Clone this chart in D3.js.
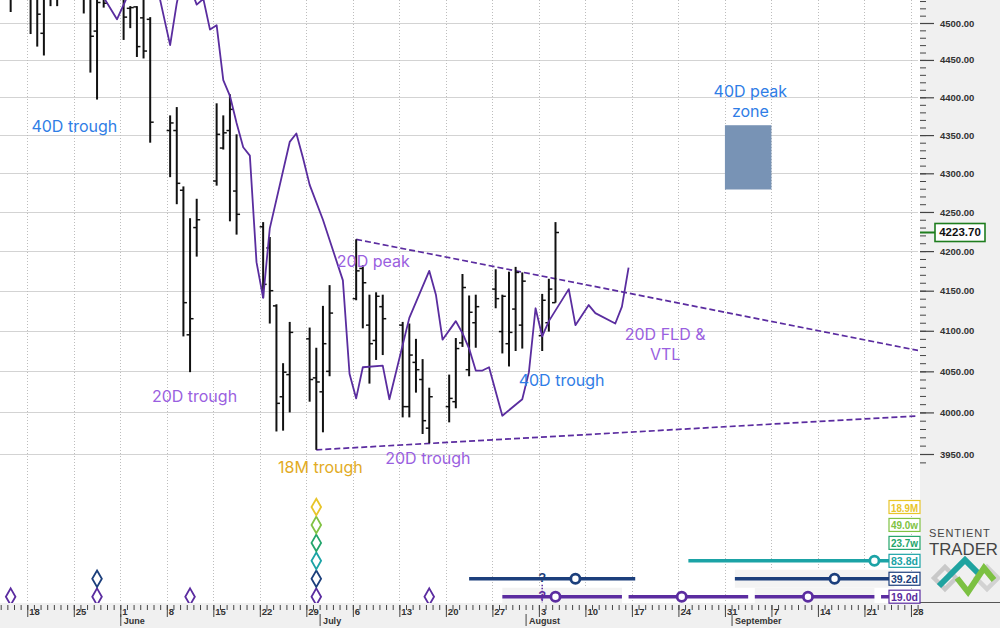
<!DOCTYPE html>
<html>
<head>
<meta charset="utf-8">
<script src="https://cdn.jsdelivr.net/npm/d3@7"></script>
<style>
  body { margin: 0; background: #fff; }
  svg { display: block; }
</style>
</head>
<body>
<svg id="chart" width="1000" height="628"></svg>
<script>
// daily OHLC: date, open, high, low, close
const bars = [
  ["2026-05-15", 4545, 4560, 4515, 4535],
  ["2026-05-18", 4550, 4570, 4485, 4540],
  ["2026-05-19", 4545, 4555, 4468, 4512],
  ["2026-05-20", 4486, 4545, 4456, 4535],
  ["2026-05-21", 4545, 4565, 4523, 4550],
  ["2026-05-22", 4550, 4570, 4523, 4540],
  ["2026-05-26", 4560, 4575, 4513, 4540],
  ["2026-05-27", 4535, 4545, 4433, 4482],
  ["2026-05-28", 4489, 4540, 4397, 4528],
  ["2026-05-29", 4540, 4560, 4521, 4527],
  ["2026-06-01", 4540, 4550, 4477, 4508],
  ["2026-06-02", 4520, 4523, 4493, 4521],
  ["2026-06-03", 4522, 4523, 4454, 4468],
  ["2026-06-04", 4507, 4535, 4452, 4462],
  ["2026-06-05", 4505, 4508, 4340, 4367],
  ["2026-06-08", 4356, 4376, 4295, 4366],
  ["2026-06-09", 4356, 4387, 4260, 4287],
  ["2026-06-10", 4278, 4283, 4093, 4135],
  ["2026-06-11", 4095, 4242, 4049, 4115],
  ["2026-06-12", 4230, 4267, 4193, 4240],
  ["2026-06-15", 4290, 4392, 4284, 4351],
  ["2026-06-16", 4333, 4376, 4331, 4353],
  ["2026-06-17", 4356, 4404, 4238, 4384],
  ["2026-06-18", 4277, 4351, 4221, 4247],
  ["2026-06-22", 4231, 4237, 4141, 4158],
  ["2026-06-23", 4204, 4218, 4109, 4150],
  ["2026-06-24", 4131, 4133, 3977, 4011],
  ["2026-06-25", 4019, 4060, 3978, 4049],
  ["2026-06-26", 4046, 4111, 4000, 4098],
  ["2026-06-29", 4090, 4104, 4013, 4040],
  ["2026-06-30", 4042, 4079, 3955, 4037],
  ["2026-07-01", 4025, 4131, 3976, 4084],
  ["2026-07-02", 4050, 4157, 4044, 4122],
  ["2026-07-06", 4140, 4215, 4138, 4175],
  ["2026-07-07", 4178, 4182, 4103, 4160],
  ["2026-07-08", 4107, 4145, 4035, 4084],
  ["2026-07-09", 4088, 4148, 4064, 4143],
  ["2026-07-10", 4130, 4145, 4070, 4115],
  ["2026-07-13", 4107, 4111, 3994, 4007],
  ["2026-07-14", 4007, 4109, 3994, 4070],
  ["2026-07-15", 4061, 4090, 4024, 4052],
  ["2026-07-16", 4040, 4065, 3974, 3990],
  ["2026-07-17", 3981, 4030, 3963, 4019],
  ["2026-07-20", 4007, 4046, 3988, 4017],
  ["2026-07-21", 4013, 4091, 4005, 4078],
  ["2026-07-22", 4085, 4171, 4080, 4154],
  ["2026-07-23", 4052, 4144, 4044, 4123],
  ["2026-07-24", 4110, 4145, 4079, 4130],
  ["2026-07-27", 4152, 4177, 4128, 4140],
  ["2026-07-28", 4099, 4145, 4072, 4143],
  ["2026-07-29", 4084, 4174, 4056, 4098],
  ["2026-07-30", 4127, 4180, 4075, 4173],
  ["2026-07-31", 4107, 4173, 4078, 4162],
  ["2026-08-03", 4094, 4146, 4075, 4138],
  ["2026-08-04", 4110, 4165, 4099, 4152],
  ["2026-08-05", 4135, 4237, 4135, 4223.70]
];
const lastClose = 4223.70;

// 20D FLD line
const fld = [
  ["2026-05-27", 4575], ["2026-05-28", 4550], ["2026-05-31", 4505], ["2026-06-02", 4545],
  ["2026-06-04", 4575], ["2026-06-06", 4552], ["2026-06-08", 4470], ["2026-06-09", 4527],
  ["2026-06-10", 4570], ["2026-06-11", 4550], ["2026-06-12", 4525], ["2026-06-13", 4533],
  ["2026-06-14", 4491], ["2026-06-15", 4497], ["2026-06-16", 4423], ["2026-06-17", 4402],
  ["2026-06-18", 4366], ["2026-06-19", 4334], ["2026-06-20", 4323], ["2026-06-21", 4186],
  ["2026-06-22", 4141], ["2026-06-23", 4229], ["2026-06-26", 4341], ["2026-06-27", 4352],
  ["2026-06-28", 4320], ["2026-06-29", 4285], ["2026-07-01", 4240], ["2026-07-04", 4163],
  ["2026-07-05", 4047], ["2026-07-06", 4017], ["2026-07-07", 4055], ["2026-07-10", 4057],
  ["2026-07-11", 4016], ["2026-07-14", 4116], ["2026-07-17", 4175], ["2026-07-18", 4145],
  ["2026-07-19", 4089], ["2026-07-21", 4112], ["2026-07-22", 4097], ["2026-07-23", 4078],
  ["2026-07-24", 4051], ["2026-07-25", 4051], ["2026-07-26", 4055], ["2026-07-28", 3996],
  ["2026-07-31", 4016], ["2026-08-01", 4049], ["2026-08-02", 4128], ["2026-08-03", 4093],
  ["2026-08-04", 4112], ["2026-08-07", 4152], ["2026-08-08", 4107], ["2026-08-10", 4132],
  ["2026-08-11", 4122], ["2026-08-14", 4109], ["2026-08-15", 4130], ["2026-08-16", 4179]
];

// valid trend lines (dashed)
const vtlUpper = [["2026-07-06", 4215], ["2026-09-29", 4075]];
const vtlLower = [["2026-06-30", 3955], ["2026-09-29", 3996]];

const peakZone = { start: "2026-08-31", end: "2026-09-07", low: 4279, high: 4363 };

const priceTicks = d3.range(3950, 4501, 50);
const minorPriceTicks = d3.range(3940, 4531, 10);

const BLUE = "#2f7de6", PURPLE = "#9a5fe0", GOLD = "#e2ab24";
const annotations = [
  { text: "40D trough", at: "2026-05-25 02:00", price: 4362, color: BLUE },
  { text: "20D trough", at: "2026-06-12 04:00", price: 4020, color: PURPLE },
  { text: "20D peak",   at: "2026-07-09 02:00", price: 4188, color: PURPLE },
  { text: "18M trough", at: "2026-07-01 03:00", price: 3935, color: GOLD },
  { text: "20D trough", at: "2026-07-17 07:00", price: 3945, color: PURPLE },
  { text: "40D trough", at: "2026-08-06 10:00", price: 4039, color: BLUE },
  { text: "20D FLD &",  at: "2026-08-22 00:00", price: 4096, color: PURPLE },
  { text: "VTL",        at: "2026-08-22 00:00", price: 4071, color: PURPLE },
  { text: "40D peak",   at: "2026-09-03 20:00", price: 4408, color: BLUE },
  { text: "zone",       at: "2026-09-03 20:00", price: 4382, color: BLUE }
];

// cycle panel, bottom row first
const cycleNames  = ["19.0d", "39.2d", "83.8d", "23.7w", "49.0w", "18.9M"];
const cycleColors = ["#5b2ca0", "#1c3f7c", "#1ba3a6", "#23a56c", "#80c243", "#e8c52a"];

// confirmed troughs: date, number of cycles that bottomed there
const troughMarks = [
  ["2026-05-15", 1], ["2026-05-28", 2], ["2026-06-11", 1], ["2026-06-30", 6], ["2026-07-17", 1]
];

// projected trough windows per row
const projSegments = [
  [0, "2026-07-28", "2026-08-15"], [0, "2026-08-16", "2026-09-03"],
  [0, "2026-09-04", "2026-09-22"], [0, "2026-09-23", "2026-10-11"],
  [1, "2026-07-23", "2026-08-17"], [1, "2026-09-01", "2026-09-25"],
  [2, "2026-08-25", "2026-09-30"]
];
const projTroughs = [
  [0, "2026-08-05"], [0, "2026-08-24"], [0, "2026-09-12"],
  [1, "2026-08-08"], [1, "2026-09-16"],
  [2, "2026-09-22"]
];
const shadedWindows = [
  [0, "2026-07-28", "2026-08-15"], [0, "2026-09-04", "2026-09-22"], [1, "2026-09-01", "2026-09-25"]
];
const uncertain = { date: "2026-08-03", rows: [0, 1] };

// ---------------------------------------------------------------------
const parseDay = d3.timeParse("%Y-%m-%d");
const parseTime = d3.timeParse("%Y-%m-%d %H:%M");

const svg = d3.select("#chart");
const plotRight = 918;
const axisBand = 603;

const x = d3.scaleTime()
  .domain([parseDay("2026-05-14"), parseDay("2026-09-29")])
  .range([0.7, 917.6]);
const y = d3.scaleLog().domain([3950, 4500]).range([454, 23]);
const rowY = d3.scaleLinear().domain([0, 5]).range([596.7, 507]);

const dayW = x(parseDay("2026-05-15")) - x(parseDay("2026-05-14"));
const xc = s => x(parseDay(s)) + dayW / 2;   // bar centre of a day

const defs = svg.append("defs");
defs.append("clipPath").attr("id", "priceClip")
  .append("rect").attr("x", 0).attr("y", 0).attr("width", plotRight).attr("height", 488);
defs.append("clipPath").attr("id", "cycleClip")
  .append("rect").attr("x", 0).attr("y", 490).attr("width", plotRight).attr("height", axisBand - 490);

// backgrounds
svg.append("rect").attr("width", 1000).attr("height", 628).attr("fill", "#fff");
svg.append("rect").attr("x", 920).attr("y", 0).attr("width", 80).attr("height", 628).attr("fill", "#f0f0f0");
svg.append("rect").attr("x", 0).attr("y", axisBand).attr("width", 1000).attr("height", 628 - axisBand).attr("fill", "#f0f0f0");
svg.append("line").attr("x1", 920).attr("x2", 1000).attr("y1", 602.5).attr("y2", 602.5)
  .attr("stroke", "#555").attr("stroke-width", 1);

// grid
const grid = svg.append("g");
grid.selectAll(".hg").data(priceTicks).join("line")
  .attr("x1", 0).attr("x2", plotRight)
  .attr("y1", d => Math.round(y(d)) + 0.5).attr("y2", d => Math.round(y(d)) + 0.5)
  .attr("stroke", "#d3d3d3");
const mondays = d3.timeMonday.range(x.domain()[0], x.domain()[1]);
grid.selectAll(".vg").data(mondays).join("line")
  .attr("x1", d => Math.round(x(d)) + 0.5).attr("x2", d => Math.round(x(d)) + 0.5)
  .attr("y1", 0).attr("y2", axisBand)
  .attr("stroke", "#bdbdbd").attr("stroke-dasharray", "1,2");

// price panel
const price = svg.append("g").attr("clip-path", "url(#priceClip)");

price.append("rect")
  .attr("x", x(parseDay(peakZone.start)))
  .attr("width", x(parseDay(peakZone.end)) - x(parseDay(peakZone.start)))
  .attr("y", y(peakZone.high))
  .attr("height", y(peakZone.low) - y(peakZone.high))
  .attr("fill", "#7893b5");

const lineGen = d3.line().x(d => xc(d[0])).y(d => y(d[1]));

[vtlUpper, vtlLower].forEach(v => {
  price.append("path").datum(v).attr("d", lineGen)
    .attr("fill", "none").attr("stroke", "#5b2ca0")
    .attr("stroke-width", 1.7).attr("stroke-dasharray", "6,3");
});

const barG = price.append("g").attr("stroke", "#111");
bars.forEach(([d, o, h, l, c]) => {
  const cx = xc(d);
  barG.append("line").attr("x1", cx).attr("x2", cx).attr("y1", y(h)).attr("y2", y(l)).attr("stroke-width", 2);
  barG.append("line").attr("x1", cx - 3.5).attr("x2", cx).attr("y1", y(o)).attr("y2", y(o)).attr("stroke-width", 1.5);
  barG.append("line").attr("x1", cx).attr("x2", cx + 3.5).attr("y1", y(c)).attr("y2", y(c)).attr("stroke-width", 1.5);
});

price.append("path").datum(fld).attr("d", lineGen)
  .attr("fill", "none").attr("stroke", "#5a2d9f").attr("stroke-width", 1.8)
  .attr("stroke-linejoin", "round");

svg.append("g").selectAll("text").data(annotations).join("text")
  .attr("x", d => x(parseTime(d.at)))
  .attr("y", d => y(d.price))
  .attr("text-anchor", "middle").attr("dominant-baseline", "central")
  .attr("font-family", "Inter, Roboto, sans-serif").attr("font-size", 16)
  .attr("fill", d => d.color)
  .text(d => d.text);

// right price axis
const axisFont = "'Liberation Sans', Arial, sans-serif";
const minorAxis = svg.append("g").attr("transform", "translate(920,0)")
  .call(d3.axisRight(y).tickValues(minorPriceTicks).tickSize(6).tickFormat(""));
minorAxis.select(".domain").remove();
minorAxis.selectAll("line").attr("stroke", "#444");

const majorAxis = svg.append("g").attr("transform", "translate(920,0)")
  .call(d3.axisRight(y).tickValues(priceTicks).tickSize(14).tickPadding(6).tickFormat(d3.format(".2f")));
majorAxis.select(".domain").remove();
majorAxis.selectAll("line").attr("stroke", "#444").attr("stroke-width", 1.2);
majorAxis.selectAll("text")
  .attr("font-family", axisFont).attr("font-size", 9.5).attr("font-weight", "bold").attr("fill", "#333");

// last price tag
const yLast = y(lastClose);
svg.append("line").attr("x1", 920).attr("x2", 935).attr("y1", yLast).attr("y2", yLast)
  .attr("stroke", "#1e7d1e").attr("stroke-width", 2);
svg.append("rect").attr("x", 935).attr("y", yLast - 9).attr("width", 50).attr("height", 18)
  .attr("fill", "#fff").attr("stroke", "#1e7d1e").attr("stroke-width", 1.6);
svg.append("text").attr("x", 960).attr("y", yLast).attr("text-anchor", "middle").attr("dominant-baseline", "central")
  .attr("font-family", axisFont).attr("font-size", 11.5).attr("font-weight", "bold").attr("fill", "#111")
  .text(d3.format(".2f")(lastClose));

// bottom time axis
const dayAxis = svg.append("g").attr("transform", `translate(0,${axisBand + 2})`)
  .call(d3.axisBottom(x).ticks(d3.timeDay).tickSize(5).tickFormat(""));
dayAxis.select(".domain").remove();
dayAxis.selectAll("line").attr("stroke", "#444");

const weekAxis = svg.append("g").attr("transform", `translate(0,${axisBand + 2})`)
  .call(d3.axisBottom(x).ticks(d3.timeMonday).tickSize(12).tickFormat(d3.timeFormat("%-d")));
weekAxis.select(".domain").remove();
weekAxis.selectAll("line").attr("stroke", "#444");
weekAxis.selectAll("text")
  .attr("text-anchor", "start").attr("x", 1.5).attr("y", 3).attr("dy", "0.71em")
  .attr("font-family", axisFont).attr("font-size", 9.5).attr("font-weight", "bold").attr("fill", "#333");

const monthAxis = svg.append("g").attr("transform", `translate(0,${axisBand + 11})`)
  .call(d3.axisBottom(x).ticks(d3.timeMonth).tickSize(12).tickFormat(d3.timeFormat("%B")));
monthAxis.select(".domain").remove();
monthAxis.selectAll("line").attr("stroke", "#444");
monthAxis.selectAll("text")
  .attr("text-anchor", "start").attr("x", 3).attr("y", 3.5).attr("dy", "0.71em")
  .attr("font-family", axisFont).attr("font-size", 9).attr("font-weight", "bold").attr("fill", "#333");

// cycle panel
const cyc = svg.append("g").attr("clip-path", "url(#cycleClip)");

cyc.selectAll(".band").data(shadedWindows).join("rect")
  .attr("x", d => xc(d[1])).attr("width", d => xc(d[2]) - xc(d[1]))
  .attr("y", d => rowY(d[0]) - 9).attr("height", 18)
  .attr("fill", "#f3f3f3");

cyc.selectAll(".seg").data(projSegments).join("line")
  .attr("x1", d => xc(d[1])).attr("x2", d => xc(d[2]))
  .attr("y1", d => rowY(d[0])).attr("y2", d => rowY(d[0]))
  .attr("stroke", d => cycleColors[d[0]]).attr("stroke-width", 3.5);

cyc.selectAll(".proj").data(projTroughs).join("circle")
  .attr("cx", d => xc(d[1])).attr("cy", d => rowY(d[0])).attr("r", 4.6)
  .attr("fill", "#fff").attr("stroke", d => cycleColors[d[0]]).attr("stroke-width", 2.8);

const ux = xc(uncertain.date);
cyc.append("line").attr("x1", ux).attr("x2", ux).attr("y1", rowY(1) + 6).attr("y2", rowY(0) + 7)
  .attr("stroke", cycleColors[0]).attr("stroke-width", 1.5).attr("stroke-dasharray", "1.5,1.5");
cyc.selectAll(".q").data(uncertain.rows).join("text")
  .attr("x", ux).attr("y", r => rowY(r) - 1)
  .attr("text-anchor", "middle").attr("dominant-baseline", "central")
  .attr("font-family", axisFont).attr("font-size", 13).attr("font-weight", "bold")
  .attr("fill", r => cycleColors[r]).text("?");

const diamondData = troughMarks.flatMap(([d, n]) => d3.range(n).map(r => ({ d, r })));
cyc.selectAll(".dia").data(diamondData).join("path")
  .attr("transform", p => `translate(${xc(p.d)},${rowY(p.r)})`)
  .attr("d", "M0,-8.3L4.8,0L0,8.3L-4.8,0Z")
  .attr("fill", "#fff").attr("stroke", p => cycleColors[p.r]).attr("stroke-width", 1.8);

// cycle length tags
const tags = svg.append("g");
cycleNames.forEach((name, i) => {
  tags.append("rect").attr("x", 889).attr("y", rowY(i) - 6.5).attr("width", 31).attr("height", 13)
    .attr("fill", "#fff").attr("stroke", cycleColors[i]).attr("stroke-width", 1.2);
  tags.append("text").attr("x", 904.5).attr("y", rowY(i) + 0.5)
    .attr("text-anchor", "middle").attr("dominant-baseline", "central")
    .attr("font-family", axisFont).attr("font-size", 10.5).attr("font-weight", "bold")
    .attr("textLength", 27).attr("lengthAdjust", "spacingAndGlyphs")
    .attr("fill", cycleColors[i]).text(name);
});

// logo
const logo = svg.append("g");
logo.append("text").attr("x", 929).attr("y", 536.5).attr("font-family", axisFont)
  .attr("font-size", 11).attr("letter-spacing", 0.9).attr("fill", "#444").text("SENTIENT");
logo.append("text").attr("x", 929).attr("y", 554.5).attr("font-family", axisFont)
  .attr("font-size", 16.5).attr("textLength", 69).attr("lengthAdjust", "spacingAndGlyphs")
  .attr("fill", "#444").text("TRADER");
logo.append("path").attr("d", "M934,578L945,567L956,578L945,589Z")
  .attr("fill", "none").attr("stroke", "#c9c9c9").attr("stroke-width", 4.5);
logo.append("path").attr("d", "M976,578L987,567L998,578L987,589Z")
  .attr("fill", "none").attr("stroke", "#d2d2d2").attr("stroke-width", 4.5);
logo.append("path").attr("d", "M939,586L965,560L979,574")
  .attr("fill", "none").attr("stroke", "#1fa3a0").attr("stroke-width", 6);
logo.append("path").attr("d", "M957,578L968,592L984,568L994,580")
  .attr("fill", "none").attr("stroke", "#7cc142").attr("stroke-width", 6);
</script>
</body>
</html>
